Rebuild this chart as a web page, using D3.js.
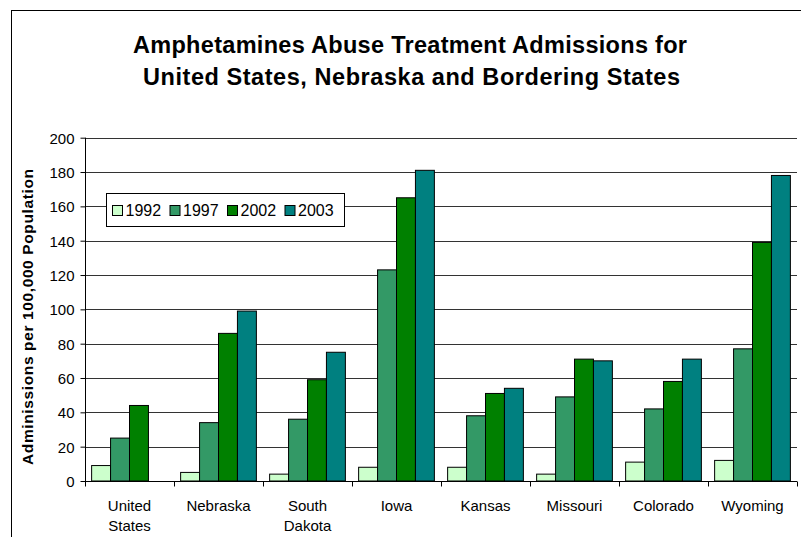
<!DOCTYPE html>
<html>
<head>
<meta charset="utf-8">
<script src="https://cdn.jsdelivr.net/npm/d3@7"></script>
<style>
  body { margin: 0; background: #fff; }
  svg text { font-family: "Liberation Sans", Arial, sans-serif; fill: #000; }
</style>
</head>
<body>
<svg id="chart"></svg>
<script>
// states and admissions per 100,000
const states = ['United States', 'Nebraska', 'South Dakota', 'Iowa', 'Kansas', 'Missouri', 'Colorado', 'Wyoming'];
const years = ['1992', '1997', '2002', '2003'];
const v1992 = [9, 5, 4, 8, 8, 4, 11, 12];
const v1997 = [25, 34, 36, 123, 38, 49, 42, 77];
const v2002 = [44, 86, 59, 165, 51, 71, 58, 139];
const v2003 = [null, 99, 75, 181, 54, 70, 71, 178];
const yTicks = [0, 20, 40, 60, 80, 100, 120, 140, 160, 180, 200];
const colors = ['#ccffcc', '#339966', '#008000', '#008080'];

let width = 801;
let height = 537;
let plotLeft = 85, plotRight = 797, plotTop = 137.7, plotBottom = 481;

const svg = d3.select('#chart')
  .attr('width', width)
  .attr('height', height);

// outer frame
svg.append('rect')
  .attr('x', 11.5).attr('y', 10.5)
  .attr('width', 800).attr('height', 540)
  .attr('fill', 'none').attr('stroke', '#000').attr('stroke-width', 1);

let series = [v1992, v1997, v2002, v2003];
let rows = [];
states.forEach((s, i) => {
  years.forEach((y, j) => {
    if (series[j][i] != null) rows.push({state: s, year: y, value: series[j][i], k: j});
  });
});

let xScale = d3.scaleBand().domain(states).range([plotLeft, plotRight]).paddingInner(0).paddingOuter(0);
let xInner = d3.scaleBand().domain(years).range([0, xScale.bandwidth()]).paddingInner(0).paddingOuter(0.35);
let yScale = d3.scaleLinear().domain([0, 200]).range([plotBottom, plotTop]);

// gridlines
svg.append('g')
  .selectAll('line')
  .data(yTicks.filter(d => d > 0))
  .enter()
  .append('line')
  .attr('x1', plotLeft).attr('x2', plotRight)
  .attr('y1', d => Math.round(yScale(d)) + 0.5)
  .attr('y2', d => Math.round(yScale(d)) + 0.5)
  .attr('stroke', '#333').attr('stroke-width', 1);

// bars
svg.append('g')
  .selectAll('rect')
  .data(rows)
  .enter()
  .append('rect')
  .attr('x', d => xScale(d.state) + xInner(d.year))
  .attr('y', d => yScale(d.value))
  .attr('width', xInner.bandwidth())
  .attr('height', d => plotBottom - yScale(d.value))
  .attr('fill', d => colors[d.k])
  .attr('stroke', '#000')
  .attr('stroke-width', 1);

// y axis
let yAxis = d3.axisLeft(yScale).tickValues(yTicks).tickSize(5).tickPadding(6);
let gy = svg.append('g')
  .attr('transform', 'translate(' + (plotLeft + 0.5) + ',0)')
  .call(yAxis);
gy.attr('font-family', null).attr('font-size', null);
gy.select('.domain').attr('stroke', '#000').attr('d', 'M0,' + plotTop + 'V' + plotBottom);
gy.selectAll('.tick line').attr('stroke', '#000');
gy.selectAll('.tick text').style('font-size', '15px').attr('dy', '0.36em');

// x axis, ticks at the group edges
let gx = svg.append('g').attr('transform', 'translate(0,' + (plotBottom + 0.5) + ')');
gx.append('line').attr('x1', plotLeft).attr('x2', plotRight).attr('stroke', '#000');
gx.selectAll('.tk')
  .data(states.concat(['end']))
  .enter()
  .append('line')
  .attr('x1', (d, i) => Math.round(plotLeft + i * xScale.bandwidth()) + 0.5)
  .attr('x2', (d, i) => Math.round(plotLeft + i * xScale.bandwidth()) + 0.5)
  .attr('y1', 0).attr('y2', 5)
  .attr('stroke', '#000');

let labels = gx.selectAll('.lbl')
  .data(states)
  .enter()
  .append('text')
  .attr('text-anchor', 'middle')
  .style('font-size', '15px')
  .attr('x', d => xScale(d) + xScale.bandwidth() / 2)
  .attr('y', 29.5);
labels.each(function(d) {
  let words = (d === 'United States' || d === 'South Dakota') ? d.split(' ') : [d];
  let t = d3.select(this);
  words.forEach((w, i) => {
    t.append('tspan')
      .attr('x', xScale(d) + xScale.bandwidth() / 2)
      .attr('dy', i === 0 ? 0 : 20)
      .text(w);
  });
});

// y axis title
svg.append('text')
  .attr('transform', 'translate(33,' + 317 + ') rotate(-90)')
  .attr('text-anchor', 'middle')
  .style('font-size', '15.5px')
  .attr('font-weight', 'bold')
  .attr('textLength', 296)
  .attr('lengthAdjust', 'spacing')
  .text('Adminissions per 100,000 Population');

// title
svg.append('text')
  .attr('x', 410).attr('y', 52.5)
  .attr('text-anchor', 'middle')
  .style('font-size', '23.5px')
  .attr('font-weight', 'bold')
  .attr('textLength', 554)
  .attr('lengthAdjust', 'spacing')
  .text('Amphetamines Abuse Treatment Admissions for');
svg.append('text')
  .attr('x', 411.5).attr('y', 84.5)
  .attr('text-anchor', 'middle')
  .style('font-size', '23.5px')
  .attr('font-weight', 'bold')
  .attr('textLength', 537)
  .attr('lengthAdjust', 'spacing')
  .text('United States, Nebraska and Bordering States');

// legend
let lg = svg.append('g').attr('transform', 'translate(106.5,193.5)');
lg.append('rect')
  .attr('width', 238).attr('height', 33)
  .attr('fill', '#fff').attr('stroke', '#000');
let li = lg.selectAll('.li')
  .data(years)
  .enter()
  .append('g')
  .attr('transform', (d, i) => 'translate(' + (6 + i * 57.5) + ',0)');
li.append('rect')
  .attr('x', 0).attr('y', 12)
  .attr('width', 10).attr('height', 10)
  .attr('fill', (d, i) => colors[i]).attr('stroke', '#000');
li.append('text')
  .attr('x', 13).attr('y', 22.5)
  .style('font-size', '16px')
  .text(d => d);
</script>
</body>
</html>
